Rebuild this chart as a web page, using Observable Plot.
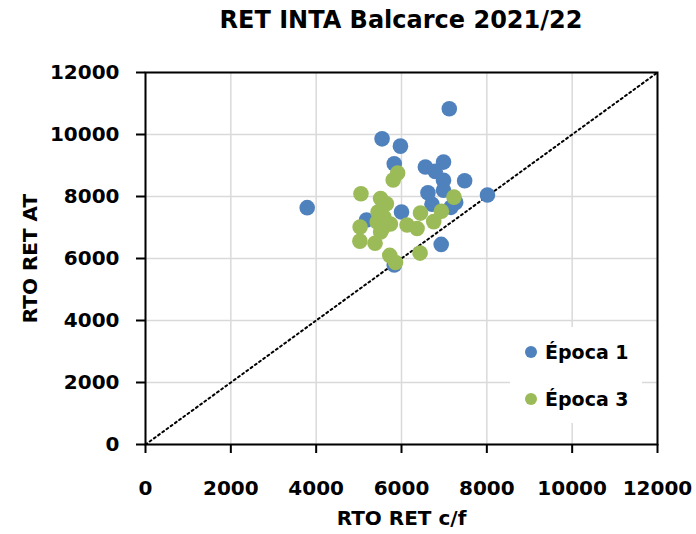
<!DOCTYPE html>
<html>
<head>
<meta charset="utf-8">
<script src="https://cdn.jsdelivr.net/npm/d3@7"></script>
<script src="https://cdn.jsdelivr.net/npm/@observablehq/plot@0.6"></script>
<style>
  body { margin: 0; background: #fff; font-family: "DejaVu Sans", sans-serif; }
  #wrap { position: relative; width: 696px; height: 534px; }
  #title { height: 40px; line-height: 40px; font-size: 24px; font-weight: bold; text-align: center; padding-left: 106px; box-sizing: border-box; width: 696px; color: #000; }
  #legend { position: absolute; left: 510px; top: 327px; width: 132px; height: 96px; background: #fff; }
  .item { position: absolute; left: 0; height: 24px; line-height: 24px; font-size: 19px; font-weight: bold; color: #000; white-space: nowrap; }
  .sw { position: absolute; left: 15px; top: 6px; width: 12px; height: 12px; border-radius: 50%; }
  .lab { position: absolute; left: 35px; top: 0; }
</style>
</head>
<body>
<div id="wrap">
  <div id="title">RET INTA Balcarce 2021/22</div>
  <div id="chart"></div>
  <div id="legend"></div>
</div>
<script>
const titleText = "RET INTA Balcarce 2021/22";
const xLabel = "RTO RET c/f";
const yLabel = "RTO RET AT";
const seriesNames = ["Época 1", "Época 3"];
const seriesColors = ["#4F81BD", "#9BBB59"];
const xTicks = [0, 2000, 4000, 6000, 8000, 10000, 12000];
const yTicks = [0, 2000, 4000, 6000, 8000, 10000, 12000];
const diagonal = [0, 12000];

const epoca1X = [7120, 5545, 5975, 5830, 6560, 6985, 6790, 6985, 7480, 6985, 6620, 8015, 6715, 7270, 7160, 3790, 6000, 5180, 6930, 5830];
const epoca1Y = [10830, 9860, 9625, 9055, 8950, 9110, 8810, 8520, 8510, 8200, 8120, 8050, 7750, 7810, 7650, 7640, 7500, 7240, 6455, 5790];

const epoca3X = [5910, 5805, 5050, 5510, 5645, 7230, 5450, 6445, 6935, 5510, 5590, 5740, 5430, 6130, 6365, 6755, 5030, 5510, 5560, 5025, 5380, 5725, 5860, 6435];
const epoca3Y = [8760, 8530, 8090, 7935, 7765, 7980, 7500, 7465, 7525, 7290, 7330, 7115, 7175, 7080, 6970, 7190, 7015, 6855, 6980, 6560, 6490, 6100, 5870, 6175];

const s1 = epoca1X.map((x, i) => ({x, y: epoca1Y[i]}));
const s3 = epoca3X.map((x, i) => ({x, y: epoca3Y[i]}));
const diag = diagonal.map(v => ({x: v, y: v}));

document.getElementById("title").textContent = titleText;

const chart = Plot.plot({
  width: 696,
  height: 494,
  marginTop: 32,
  marginBottom: 90,
  marginLeft: 145,
  marginRight: 39,
  x: {domain: [0, 12000], label: null},
  y: {domain: [0, 12000], label: null},
  style: {fontFamily: "DejaVu Sans", fontSize: "20px", fontWeight: "bold", color: "#000", background: "#fff", overflow: "visible"},
  marks: [
    Plot.gridX(xTicks, {stroke: "#d9d9d9", strokeOpacity: 1, strokeWidth: 1.5}),
    Plot.gridY(yTicks, {stroke: "#d9d9d9", strokeOpacity: 1, strokeWidth: 1.5}),
    Plot.line(diag, {x: "x", y: "y", stroke: "#000", strokeWidth: 2, strokeDasharray: "2 3.2"}),
    Plot.dot(s1, {x: "x", y: "y", r: 7.8, fill: seriesColors[0], stroke: "none"}),
    Plot.dot(s3, {x: "x", y: "y", r: 7.8, fill: seriesColors[1], stroke: "none"}),
    Plot.frame({stroke: "#000", strokeWidth: 2, strokeOpacity: 1, fill: "none"}),
    Plot.axisX(xTicks, {tickSize: 9, tickPadding: 27, strokeWidth: 2, stroke: "#000", tickFormat: d => String(d), label: null, fontSize: 20, fontWeight: "bold", fill: "#000"}),
    Plot.axisY(yTicks, {tickSize: 9, tickPadding: 17, strokeWidth: 2, stroke: "#000", tickFormat: d => String(d), label: null, fontSize: 20, fontWeight: "bold", fill: "#000"}),
    Plot.text([xLabel], {frameAnchor: "bottom", dy: 80, text: d => d, fontSize: 20, fontWeight: "bold", fill: "#000", textAnchor: "middle"}),
    Plot.text([yLabel], {frameAnchor: "left", dx: -115, rotate: -90, text: d => d, fontSize: 20, fontWeight: "bold", fill: "#000", textAnchor: "middle"})
  ]
});
document.getElementById("chart").appendChild(chart);

const legend = document.getElementById("legend");
seriesNames.forEach((name, i) => {
  const item = document.createElement("div");
  item.className = "item";
  item.style.top = (13 + i * 47) + "px";
  item.style.width = "132px";
  const sw = document.createElement("span");
  sw.className = "sw";
  sw.style.background = seriesColors[i];
  const lab = document.createElement("span");
  lab.className = "lab";
  lab.textContent = name;
  item.appendChild(sw);
  item.appendChild(lab);
  legend.appendChild(item);
});
</script>
</body>
</html>
